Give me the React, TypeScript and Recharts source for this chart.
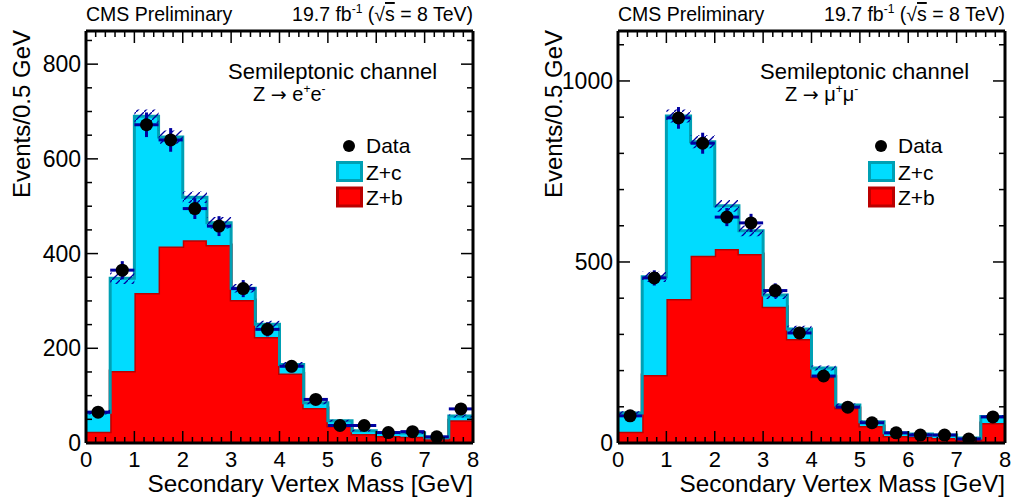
import React from 'react';
import { ComposedChart, Area, Scatter, ErrorBar, XAxis, YAxis } from 'recharts';

const FONT = '"Liberation Sans", Arial, Helvetica, sans-serif';

// bins of 0.5 GeV from 0 to 8
const binLow = [0, 0.5, 1, 1.5, 2, 2.5, 3, 3.5, 4, 4.5, 5, 5.5, 6, 6.5, 7, 7.5];
const binCenter = [0.25, 0.75, 1.25, 1.75, 2.25, 2.75, 3.25, 3.75, 4.25, 4.75, 5.25, 5.75, 6.25, 6.75, 7.25, 7.75];

// Z -> ee
const eeZb = [24, 152, 317, 415, 428, 418, 302, 224, 147, 74, 36, 19, 15, 13, 8, 48];
const eeTotal = [65, 348, 690, 646, 519, 465, 327, 251, 166, 85, 47, 26, 22, 21, 12, 57];
const eeBand = [5, 12, 14, 14, 12, 12, 9, 7, 5, 3, 2, 2, 2, 2, 1, 3];
const eeData = [65, 365, 672, 640, 495, 458, 326, 240, 162, 92, 37, 37, 22, 24, 13, 72];
const eeDataErr = [8, 19, 26, 25, 22, 21, 18, 15, 13, 10, 6, 6, 5, 5, 4, 8];

// Z -> mumu
const mmZb = [31, 188, 398, 517, 536, 522, 376, 287, 183, 97, 47, 19, 17, 14, 8, 55];
const mmTotal = [83, 459, 903, 832, 655, 586, 409, 315, 207, 105, 59, 28, 25, 22, 14, 73];
const mmBand = [5, 14, 18, 18, 16, 15, 11, 9, 7, 4, 3, 2, 2, 2, 1, 4];
const mmData = [75, 456, 898, 828, 624, 608, 421, 304, 185, 99, 56, 28, 22, 22, 11, 72];
const mmDataErr = [9, 21, 30, 29, 25, 25, 20, 17, 14, 10, 7, 5, 5, 5, 3, 9];

const xMajor = [0, 1, 2, 3, 4, 5, 6, 7, 8];
const xTicks = Array.from({ length: 41 }, (_, i) => Math.round(i * 2) / 10);
const eeYMajor = [0, 200, 400, 600, 800];
const eeYTicks = Array.from({ length: 18 }, (_, i) => i * 50);
const mmYMajor = [0, 500, 1000];
const mmYTicks = Array.from({ length: 12 }, (_, i) => i * 100);

const CYAN = '#00dcff';
const CYAN_EDGE = '#00a0b4';
const RED = '#ff0000';
const RED_EDGE = '#bb0000';
const BLUE = '#0000a0';

function buildSteps(zb: number[], total: number[], band: number[]) {
  return [...binLow, 8].map((x, i) => {
    const k = Math.min(i, binLow.length - 1);
    return {
      x,
      zb: zb[k],
      zc: total[k] - zb[k],
      band: [total[k] - band[k], total[k] + band[k]],
    };
  });
}

function buildPoints(data: number[], err: number[]) {
  return binCenter.map((x, i) => ({ x, y: data[i], ex: 0.25, ey: err[i] }));
}

const isMajor = (v: number, major: number[]) => major.some((m) => Math.abs(m - v) < 1e-6);

const BottomTick = (props: any) => {
  const { x, y, payload } = props;
  const major = isMajor(payload.value, xMajor);
  return (
    <g>
      <line x1={x} x2={x} y1={y} y2={y - (major ? 12 : 6)} stroke="#000" strokeWidth={1.5} />
      {major && (
        <text x={x} y={y + 24} textAnchor="middle" fontSize={22} fontFamily={FONT} fill="#000">
          {payload.value}
        </text>
      )}
    </g>
  );
};

const TopTick = (props: any) => {
  const { x, y, payload } = props;
  const major = isMajor(payload.value, xMajor);
  return <line x1={x} x2={x} y1={y} y2={y + (major ? 12 : 6)} stroke="#000" strokeWidth={1.5} />;
};

const makeLeftTick = (major: number[]) => (props: any) => {
  const { x, y, payload } = props;
  const m = isMajor(payload.value, major);
  return (
    <g>
      <line x1={x} x2={x + (m ? 12 : 6)} y1={y} y2={y} stroke="#000" strokeWidth={1.5} />
      {m && (
        <text x={x - 5} y={y + 8} textAnchor="end" fontSize={23} fontFamily={FONT} fill="#000">
          {payload.value}
        </text>
      )}
    </g>
  );
};

const makeRightTick = (major: number[]) => (props: any) => {
  const { x, y, payload } = props;
  const m = isMajor(payload.value, major);
  return <line x1={x} x2={x - (m ? 12 : 6)} y1={y} y2={y} stroke="#000" strokeWidth={1.5} />;
};

const Dot = (p: any) => <circle cx={p.cx} cy={p.cy} r={6.5} fill="#000" />;

interface PanelProps {
  id: string;
  zb: number[];
  total: number[];
  band: number[];
  data: number[];
  dataErr: number[];
  yMax: number;
  yTicks: number[];
  yMajor: number[];
  yAxisWidth: number;
  rightMargin: number;
}

function Panel(p: PanelProps) {
  const steps = buildSteps(p.zb, p.total, p.band);
  const points = buildPoints(p.data, p.dataErr);
  const frame = { stroke: '#000', strokeWidth: 3 };
  return (
    <ComposedChart
      width={506}
      height={502}
      data={steps}
      margin={{ top: 30, right: p.rightMargin, bottom: 0, left: 0 }}
    >
      <defs>
        <pattern id={`hatch-${p.id}`} patternUnits="userSpaceOnUse" width="8" height="8">
          <path d="M0,8 L8,0" stroke={BLUE} strokeWidth={1.3} />
        </pattern>
      </defs>
      <XAxis
        dataKey="x"
        type="number"
        domain={[0, 8]}
        allowDataOverflow
        ticks={xTicks}
        interval={0}
        tickSize={0}
        tickMargin={0}
        tickLine={false}
        axisLine={frame}
        tick={<BottomTick />}
        height={59}
      />
      <XAxis
        xAxisId="top"
        orientation="top"
        dataKey="x"
        type="number"
        domain={[0, 8]}
        allowDataOverflow
        ticks={xTicks}
        interval={0}
        tickSize={0}
        tickMargin={0}
        tickLine={false}
        axisLine={frame}
        tick={<TopTick />}
        height={1}
      />
      <YAxis
        type="number"
        domain={[0, p.yMax]}
        allowDataOverflow
        ticks={p.yTicks}
        interval={0}
        tickSize={0}
        tickMargin={0}
        tickLine={false}
        axisLine={frame}
        tick={makeLeftTick(p.yMajor)}
        width={p.yAxisWidth}
      />
      <YAxis
        yAxisId="right"
        orientation="right"
        type="number"
        domain={[0, p.yMax]}
        allowDataOverflow
        ticks={p.yTicks}
        interval={0}
        tickSize={0}
        tickMargin={0}
        tickLine={false}
        axisLine={frame}
        tick={makeRightTick(p.yMajor)}
        width={1}
      />
      <Area
        type="stepAfter"
        dataKey="zb"
        stackId="mc"
        fill={RED}
        fillOpacity={1}
        stroke={RED_EDGE}
        strokeWidth={3}
        isAnimationActive={false}
      />
      <Area
        type="stepAfter"
        dataKey="zc"
        stackId="mc"
        fill={CYAN}
        fillOpacity={1}
        stroke={CYAN_EDGE}
        strokeWidth={3}
        isAnimationActive={false}
      />
      <Area
        type="stepAfter"
        dataKey="band"
        fill={`url(#hatch-${p.id})`}
        fillOpacity={1}
        stroke="none"
        isAnimationActive={false}
      />
      <Scatter data={points} dataKey="y" shape={<Dot />} isAnimationActive={false}>
        <ErrorBar dataKey="ex" direction="x" width={0} stroke={BLUE} strokeWidth={3} />
        <ErrorBar dataKey="ey" direction="y" width={0} stroke={BLUE} strokeWidth={3} />
      </Scatter>
    </ComposedChart>
  );
}

function Labels({ dx, channel }: { dx: number; channel: 'ee' | 'mm' }) {
  const lep = channel === 'ee' ? 'e' : 'μ';
  return (
    <g fontFamily={FONT} fill="#000">
      <text x={86 + dx} y={21} fontSize={19.5}>CMS Preliminary</text>
      <text x={473 + dx} y={21} fontSize={19.5} textAnchor="end">
        19.7 fb<tspan fontSize={12} dy={-8}>-1</tspan>
        <tspan dy={8}> (√</tspan>
        <tspan style={{ textDecoration: 'overline' }}>s</tspan> = 8 TeV)
      </text>
      <text x={473 + dx} y={492} fontSize={24.3} textAnchor="end">Secondary Vertex Mass [GeV]</text>
      <text transform={`translate(${30 + dx},30) rotate(-90)`} fontSize={24} textAnchor="end">
        Events/0.5 GeV
      </text>
      <text x={228 + dx} y={79} fontSize={22}>Semileptonic channel</text>
      <text x={253 + dx} y={101} fontSize={20}>
        Z <tspan fontFamily='"DejaVu Sans", sans-serif' fontSize={19}>→</tspan> {lep}
        <tspan fontSize={12} dy={-8}>+</tspan>
        <tspan dy={8}>{lep}</tspan>
        <tspan fontSize={12} dy={-8}>-</tspan>
      </text>
      <circle cx={349 + dx} cy={146} r={6} fill="#000" />
      <text x={366 + dx} y={153} fontSize={21}>Data</text>
      <rect x={337.5 + dx} y={162.5} width={24} height={18} fill={CYAN} stroke={CYAN_EDGE} strokeWidth={3} />
      <text x={366 + dx} y={180} fontSize={21}>Z+c</text>
      <rect x={337.5 + dx} y={188} width={24} height={18} fill={RED} stroke={RED_EDGE} strokeWidth={3} />
      <text x={366 + dx} y={205} fontSize={21}>Z+b</text>
    </g>
  );
}

export default function App() {
  return (
    <div style={{ position: 'absolute', left: 0, top: 0, width: 1012, height: 502, background: '#fff' }}>
      <div style={{ position: 'absolute', left: 0, top: 0 }}>
        <Panel
          id="ee"
          zb={eeZb}
          total={eeTotal}
          band={eeBand}
          data={eeData}
          dataErr={eeDataErr}
          yMax={870}
          yTicks={eeYTicks}
          yMajor={eeYMajor}
          yAxisWidth={86}
          rightMargin={32}
        />
      </div>
      <div style={{ position: 'absolute', left: 506, top: 0 }}>
        <Panel
          id="mm"
          zb={mmZb}
          total={mmTotal}
          band={mmBand}
          data={mmData}
          dataErr={mmDataErr}
          yMax={1138}
          yTicks={mmYTicks}
          yMajor={mmYMajor}
          yAxisWidth={112}
          rightMargin={6}
        />
      </div>
      <svg
        width={1012}
        height={502}
        style={{ position: 'absolute', left: 0, top: 0, pointerEvents: 'none' }}
      >
        <Labels dx={0} channel="ee" />
        <Labels dx={532} channel="mm" />
      </svg>
    </div>
  );
}
